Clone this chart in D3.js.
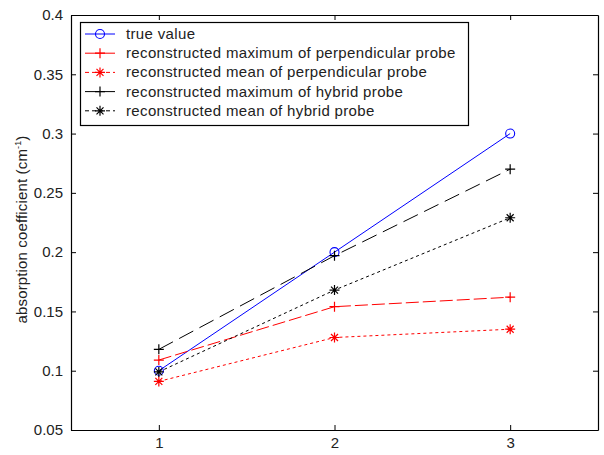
<!DOCTYPE html>
<html><head><meta charset="utf-8">
<script src="https://cdn.jsdelivr.net/npm/d3@7"></script>
<style>body{margin:0;background:#fff}svg{display:block}text{font-family:"Liberation Sans",Arial,sans-serif}</style>
</head><body>
<svg id="c" width="604" height="455"></svg>
<script>
const categories = [1, 2, 3];
const trueValue = [0.1, 0.2, 0.3];
const perpMax = [0.109, 0.154, 0.162];
const perpMean = [0.091, 0.128, 0.135];
const hybMax = [0.118, 0.197, 0.270];
const hybMean = [0.099, 0.168, 0.229];
const yTicks = [0.05, 0.1, 0.15, 0.2, 0.25, 0.3, 0.35, 0.4];
const xTicks = [1, 2, 3];
const legendLabels = ["true value","reconstructed maximum of perpendicular probe","reconstructed mean of perpendicular probe","reconstructed maximum of hybrid probe","reconstructed mean of hybrid probe"];

const series = [
  {name: legendLabels[0], values: trueValue, color: "#0000ff", dash: null, legDash: null, marker: "o"},
  {name: legendLabels[1], values: perpMax, color: "#ff0000", dash: "13,4", legDash: null, marker: "+"},
  {name: legendLabels[2], values: perpMean, color: "#ff0000", dash: "3,3", legDash: "4,3", marker: "*"},
  {name: legendLabels[3], values: hybMax, color: "#000000", dash: "16,7", legDash: null, marker: "+"},
  {name: legendLabels[4], values: hybMean, color: "#000000", dash: "3,3", legDash: "4,3", marker: "*"}
];

const svg = d3.select("#c");
const L = 71, R = 598, T = 15, B = 430;
const x = d3.scaleLinear().domain([0.5, 3.5]).range([L, R]);
const y = d3.scaleLinear().domain([0.05, 0.4]).range([B, T]);

const fmt = d => String(+d.toFixed(2));
const ax = svg.append("g");
ax.append("g").attr("transform", `translate(0,${B})`)
  .call(d3.axisBottom(x).tickValues(xTicks).tickSizeInner(-5).tickSizeOuter(0).tickPadding(7).tickFormat(d3.format("d")));
ax.append("g").attr("transform", `translate(0,${T})`)
  .call(d3.axisTop(x).tickValues(xTicks).tickSizeInner(-5).tickSizeOuter(0).tickFormat(""));
ax.append("g").attr("transform", `translate(${L},0)`)
  .call(d3.axisLeft(y).tickValues(yTicks).tickSizeInner(-5).tickSizeOuter(0).tickPadding(8).tickFormat(fmt));
ax.append("g").attr("transform", `translate(${R},0)`)
  .call(d3.axisRight(y).tickValues(yTicks).tickSizeInner(-5).tickSizeOuter(0).tickFormat(""));
ax.selectAll("path.domain").attr("stroke", "#000").attr("stroke-width", 1.2);
ax.selectAll(".tick line").attr("stroke", "#000");
ax.selectAll(".tick text").attr("font-size", 15).attr("fill", "#222").attr("font-family", "Liberation Sans, Arial, sans-serif");

// y label
const yl = svg.append("text").attr("transform", `translate(27,${(T+B)/2 + 7}) rotate(-90)`)
  .attr("text-anchor", "middle").attr("font-size", 15).attr("letter-spacing", 0.15).attr("fill", "#222");
yl.append("tspan").text("absorption coefficient (cm");
yl.append("tspan").text("-1").attr("font-size", 9).attr("dy", -6);
yl.append("tspan").text(")").attr("dy", 6);

function drawMarker(g, type, cx, cy, color) {
  if (type === "o") {
    g.append("circle").attr("cx", cx).attr("cy", cy).attr("r", 4.5).attr("fill", "none").attr("stroke", color).attr("stroke-width", 1.1);
  } else {
    const s = 5;
    const p = d3.path();
    p.moveTo(cx - s, cy); p.lineTo(cx + s, cy);
    p.moveTo(cx, cy - s); p.lineTo(cx, cy + s);
    if (type === "*") {
      const d = s * 0.7;
      p.moveTo(cx - d, cy - d); p.lineTo(cx + d, cy + d);
      p.moveTo(cx - d, cy + d); p.lineTo(cx + d, cy - d);
    }
    g.append("path").attr("d", p.toString()).attr("stroke", color).attr("stroke-width", 1.2).attr("fill", "none");
  }
}

const line = d3.line().x((d, i) => x(categories[i])).y(d => y(d));
const plot = svg.append("g");
series.forEach(s => {
  plot.append("path").datum(s.values).attr("d", line).attr("fill", "none")
    .attr("stroke", s.color).attr("stroke-width", 1)
    .attr("stroke-dasharray", s.dash);
  s.values.forEach((v, i) => drawMarker(plot, s.marker, x(categories[i]), y(v), s.color));
});

// legend
const lg = svg.append("g");
lg.append("rect").attr("x", 80.5).attr("y", 22.5).attr("width", 388).attr("height", 103)
  .attr("fill", "#fff").attr("stroke", "#000").attr("stroke-width", 1.2);
series.forEach((s, i) => {
  const ly = 34 + i * 19.2;
  lg.append("line").attr("x1", 85).attr("x2", 115).attr("y1", ly).attr("y2", ly)
    .attr("stroke", s.color).attr("stroke-width", 1).attr("stroke-dasharray", s.legDash);
  drawMarker(lg, s.marker, 100, ly, s.color);
  lg.append("text").attr("x", 126).attr("y", ly + 5).attr("font-size", 15).attr("letter-spacing", 0.35).attr("fill", "#222").text(s.name);
});
</script>
</body></html>
